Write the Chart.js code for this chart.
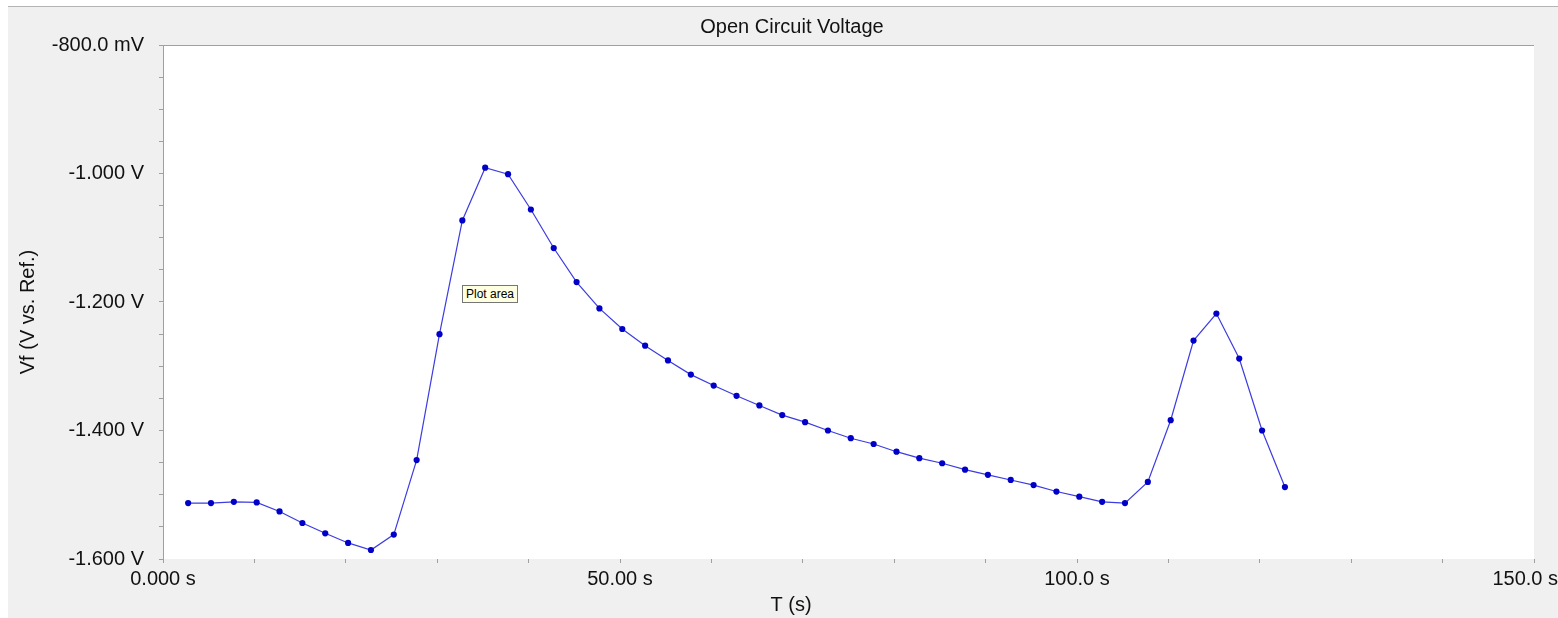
<!DOCTYPE html>
<html>
<head>
<meta charset="utf-8">
<title>Open Circuit Voltage</title>
<script src="https://cdn.jsdelivr.net/npm/chart.js@4.4.1/dist/chart.umd.min.js"></script>
<style>
  html, body { margin: 0; padding: 0; background: #ffffff; }
  #wrap { position: relative; width: 1558px; height: 618px; }
  #tip {
    position: absolute; left: 462px; top: 285px; height: 16px; padding: 0 3px;
    background: #ffffe1; border: 1px solid #767676; color: #000;
    font: 12px "Liberation Sans", Arial, sans-serif; line-height: 16px;
  }
</style>
</head>
<body>
<div id="wrap">
  <canvas id="ocv-chart" width="1558" height="618"></canvas>
  <div id="tip">Plot area</div>
</div>
<script>
// time (s) and open circuit potential (V vs. Ref.)
const times = [2.75, 5.25, 7.75, 10.25, 12.75, 15.25, 17.75, 20.25, 22.75, 25.25,
  27.75, 30.25, 32.75, 35.25, 37.75, 40.25, 42.75, 45.25, 47.75, 50.25,
  52.75, 55.25, 57.75, 60.25, 62.75, 65.25, 67.75, 70.25, 72.75, 75.25,
  77.75, 80.25, 82.75, 85.25, 87.75, 90.25, 92.75, 95.25, 97.75, 100.25,
  102.75, 105.25, 107.75, 110.25, 112.75, 115.25, 117.75, 120.25, 122.75];
const volts = [-1.513, -1.513, -1.511, -1.512, -1.526, -1.544, -1.560, -1.575, -1.586, -1.562,
  -1.446, -1.250, -1.073, -0.991, -1.001, -1.056, -1.116, -1.169, -1.210, -1.242,
  -1.268, -1.291, -1.313, -1.330, -1.346, -1.361, -1.376, -1.387, -1.400, -1.412,
  -1.421, -1.433, -1.443, -1.451, -1.461, -1.469, -1.477, -1.485, -1.495, -1.503,
  -1.511, -1.513, -1.480, -1.384, -1.260, -1.218, -1.288, -1.400, -1.488];

const xTickValues = [0, 50, 100, 150];
const xTickLabels = ["0.000 s", "50.00 s", "100.0 s", "150.0 s"];
const yTickValues = [-0.8, -1.0, -1.2, -1.4, -1.6];
const yTickLabels = ["-800.0 mV", "-1.000 V", "-1.200 V", "-1.400 V", "-1.600 V"];

const chartTitle = "Open Circuit Voltage";
const xTitle = "T (s)";
const yTitle = "Vf (V vs. Ref.)";

const FONT = '"Liberation Sans", Arial, sans-serif';
const AXIS_GREY = "#a0a0a0";

function lookupLabel(values, labels, v) {
  const i = values.findIndex(t => Math.abs(t - v) < 1e-6);
  return i >= 0 ? labels[i] : "";
}

// grey panel, white plot area, titles
const panelPlugin = {
  id: "panel",
  beforeDraw(chart) {
    const { ctx, chartArea: a, width, height } = chart;
    ctx.save();
    ctx.fillStyle = "#ffffff";
    ctx.fillRect(0, 0, width, height);
    ctx.fillStyle = "#f0f0f0";
    ctx.fillRect(8, 6, width - 8, height - 6);
    ctx.fillStyle = "#b4b4b4";
    ctx.fillRect(8, 6, width - 8, 1);
    ctx.fillStyle = "#ffffff";
    ctx.fillRect(a.left, a.top, a.right - a.left, a.bottom - a.top);
    ctx.fillStyle = AXIS_GREY;
    ctx.fillRect(a.left, a.top, a.right - a.left, 1);
    ctx.restore();

    // keep the last x label inside the window, like the original
    const xs = chart.scales.x;
    const items = xs.getLabelItems ? xs.getLabelItems(chart.chartArea) : null;
    if (items && items.length) {
      const last = items[items.length - 1];
      if (last.label && last.options && last.options.translation) {
        last.options.textAlign = "right";
        last.options.translation = [width, last.options.translation[1]];
      }
    }
  },
  afterDraw(chart) {
    const { ctx } = chart;
    ctx.save();
    ctx.fillStyle = "#111111";
    ctx.font = "20px " + FONT;
    ctx.textAlign = "center";
    ctx.textBaseline = "middle";
    ctx.fillText(chartTitle, 792, 27);
    ctx.fillText(xTitle, 791, 605);
    ctx.translate(28, 312);
    ctx.rotate(-Math.PI / 2);
    ctx.fillText(yTitle, 0, 0);
    ctx.restore();
  }
};

const ctx = document.getElementById("ocv-chart");
new Chart(ctx, {
  type: "line",
  data: {
    datasets: [{
      label: "Vf",
      data: times.map((t, i) => ({ x: t, y: volts[i] })),
      borderColor: "#3c3ce0",
      borderWidth: 1.2,
      backgroundColor: "#0000c8",
      pointBackgroundColor: "#0000c8",
      pointBorderColor: "#0000c8",
      pointBorderWidth: 0,
      pointRadius: 3.1,
      tension: 0,
      fill: false
    }]
  },
  options: {
    responsive: false,
    animation: false,
    layout: { padding: { top: 45, left: 0, right: 0, bottom: 0 } },
    plugins: {
      legend: { display: false },
      tooltip: { enabled: false },
      title: { display: false }
    },
    scales: {
      x: {
        type: "linear",
        min: 0,
        max: 150,
        border: { display: false },
        grid: {
          drawOnChartArea: false,
          drawTicks: true,
          tickLength: 4,
          tickColor: AXIS_GREY
        },
        ticks: {
          stepSize: 10,
          autoSkip: false,
          maxRotation: 0,
          padding: 4,
          color: "#111111",
          font: { size: 20, family: FONT },
          callback: v => lookupLabel(xTickValues, xTickLabels, v)
        },
        afterFit: s => { s.height = 59; s.paddingRight = 24; s.paddingLeft = 0; }
      },
      y: {
        type: "linear",
        min: -1.6,
        max: -0.8,
        border: { display: true, color: AXIS_GREY, width: 1 },
        grid: {
          drawOnChartArea: false,
          drawTicks: true,
          tickLength: 4,
          tickColor: AXIS_GREY
        },
        ticks: {
          stepSize: 0.05,
          autoSkip: false,
          padding: 15,
          color: "#111111",
          font: { size: 20, family: FONT },
          callback: v => lookupLabel(yTickValues, yTickLabels, v)
        },
        afterFit: s => { s.width = 163; }
      }
    }
  },
  plugins: [panelPlugin]
});
</script>
</body>
</html>
